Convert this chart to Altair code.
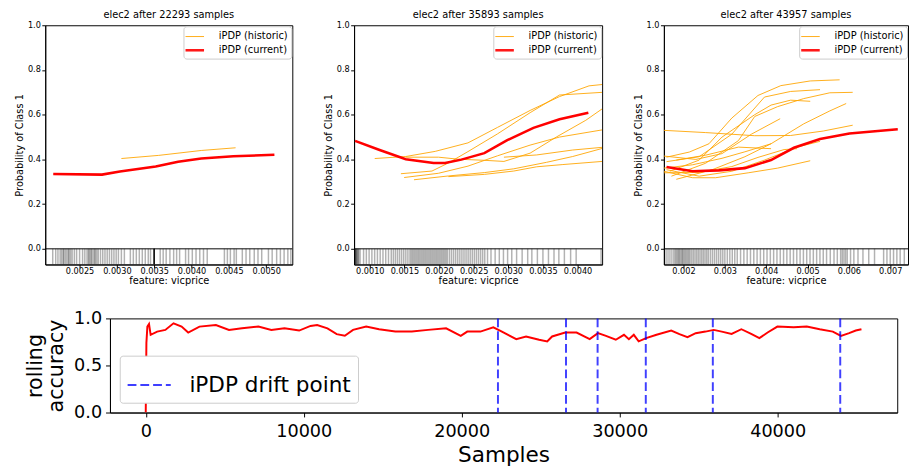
import altair as alt
import pandas as pd

FONT = "DejaVu Sans"
SERIES = ["iPDP (historic)", "iPDP (current)"]
SERIES_COLORS = ["#ffa500", "#ff0000"]
SERIES_WIDTHS = [1.0, 2.6]
Y_TICKS = [0.0, 0.2, 0.4, 0.6, 0.8, 1.0]

# ---------------- panel 1 ----------------
P1_TITLE = "elec2 after 22293 samples"
P1_XDOM = [0.00204, 0.00535]
P1_XTICKS = [0.0025, 0.0030, 0.0035, 0.0040, 0.0045, 0.0050]
P1_CUR_X = [0.002147, 0.00280, 0.00304, 0.00352, 0.00382, 0.00413, 0.00456, 0.00511]
P1_CUR_Y = [0.335, 0.332, 0.346, 0.368, 0.390, 0.404, 0.414, 0.421]
P1_HIST_X = [[0.00306, 0.00356, 0.00413, 0.00459]]
P1_HIST_Y = [[0.404, 0.418, 0.440, 0.452]]
P1_RUG = [0.00214, 0.00218, 0.00221, 0.00224, 0.00226, 0.00228, 0.00229, 0.00231,
          0.00233, 0.00235, 0.00236, 0.00238, 0.00240, 0.00243, 0.00246, 0.00250,
          0.00254, 0.00257, 0.00260, 0.00262, 0.00263, 0.00265, 0.00266, 0.00268,
          0.00270, 0.00271, 0.00273, 0.00275, 0.00278, 0.00281, 0.00284, 0.00287,
          0.00290, 0.00293, 0.00296, 0.00299, 0.00302, 0.00306, 0.00310, 0.00318,
          0.00322, 0.00326, 0.00330, 0.00334, 0.00338, 0.00342, 0.00345,
          0.00350, 0.00350, 0.00350, 0.00350, 0.00350, 0.00350, 0.00350,
          0.00358, 0.00362, 0.00366, 0.00371, 0.00376, 0.00380, 0.00384, 0.00392,
          0.00396, 0.00401, 0.00406, 0.00411, 0.00416, 0.00421, 0.00444, 0.00448,
          0.00452, 0.00457, 0.00460, 0.00468, 0.00473, 0.00478, 0.00484, 0.00489,
          0.00494, 0.00503, 0.00508, 0.00514, 0.00519, 0.00524, 0.00529, 0.00533]

# ---------------- panel 2 ----------------
P2_TITLE = "elec2 after 35893 samples"
P2_XDOM = [0.000773, 0.004355]
P2_XTICKS = [0.0010, 0.0015, 0.0020, 0.0025, 0.0030, 0.0035, 0.0040]
P2_CUR_X = [0.000787, 0.001142, 0.00152, 0.001921, 0.002087, 0.002323, 0.002654,
            0.002985, 0.003363, 0.00374, 0.004156]
P2_CUR_Y = [0.483, 0.442, 0.401, 0.384, 0.384, 0.399, 0.428, 0.486, 0.541, 0.580, 0.609]
P2_HIST_X = [
    [0.001071, 0.00152, 0.001945, 0.002418, 0.002843, 0.003315, 0.00374, 0.004166, 0.004355],
    [0.001449, 0.001898, 0.002134, 0.002418, 0.002843, 0.003315, 0.00374, 0.004355],
    [0.00152, 0.001992, 0.002276, 0.002654, 0.002937, 0.003315, 0.003693, 0.004119, 0.004355],
    [0.001496, 0.001992, 0.002418, 0.002843, 0.003315, 0.00374, 0.004355],
    [0.001638, 0.002134, 0.002654, 0.003079, 0.003552, 0.00393, 0.004355],
    [0.002134, 0.002654, 0.003079, 0.00341, 0.003788, 0.004355],
    [0.002937, 0.00341, 0.00393, 0.004355],
]
P2_HIST_Y = [
    [0.404, 0.413, 0.436, 0.474, 0.543, 0.619, 0.681, 0.729, 0.735],
    [0.336, 0.348, 0.384, 0.435, 0.514, 0.609, 0.688, 0.700],
    [0.410, 0.410, 0.401, 0.396, 0.391, 0.428, 0.500, 0.575, 0.626],
    [0.319, 0.338, 0.370, 0.416, 0.464, 0.500, 0.532],
    [0.309, 0.326, 0.341, 0.358, 0.387, 0.413, 0.449],
    [0.323, 0.333, 0.348, 0.367, 0.377, 0.391],
    [0.410, 0.420, 0.442, 0.454],
]
P2_RUG = [0.00079, 0.00079, 0.00080, 0.00080, 0.00081, 0.00082, 0.00083, 0.00084,
          0.00086, 0.00091, 0.00095, 0.00099, 0.00103, 0.00107, 0.00111, 0.00115,
          0.00119, 0.00123, 0.00127, 0.00131, 0.00134, 0.00137, 0.00140, 0.00143,
          0.00146, 0.00149, 0.00152, 0.00155, 0.00158, 0.00160, 0.00162, 0.00164,
          0.00166, 0.00168, 0.00170, 0.00172, 0.00174, 0.00176, 0.00178, 0.00180,
          0.00182, 0.00184, 0.00186, 0.00188, 0.00190, 0.00192, 0.00194, 0.00196,
          0.00198, 0.00200, 0.00202, 0.00204, 0.00206, 0.00208, 0.00210, 0.00212,
          0.00215, 0.00218, 0.00221, 0.00224, 0.00227, 0.00230, 0.00233, 0.00236,
          0.00239, 0.00242, 0.00245, 0.00248, 0.00251, 0.00254, 0.00257, 0.00260,
          0.00263, 0.00266, 0.00270, 0.00275, 0.00281, 0.00287, 0.00293, 0.00299,
          0.00305, 0.00312, 0.00320, 0.00328, 0.00334, 0.00342, 0.00350, 0.00358,
          0.00366, 0.00373, 0.00381, 0.00390, 0.00398, 0.00434]

# ---------------- panel 3 ----------------
P3_TITLE = "elec2 after 43957 samples"
P3_XDOM = [0.001526, 0.00743]
P3_XTICKS = [0.002, 0.003, 0.004, 0.005, 0.006, 0.007]
P3_CUR_X = [0.001589, 0.002221, 0.002853, 0.003485, 0.004117, 0.00467, 0.005302,
            0.006013, 0.007182]
P3_CUR_Y = [0.366, 0.347, 0.351, 0.361, 0.397, 0.452, 0.491, 0.516, 0.535]
P3_HIST_X = [
    [0.001526, 0.002537, 0.003722, 0.004591, 0.005381, 0.006092],
    [0.001589, 0.002142, 0.002616, 0.003169, 0.003801, 0.004354, 0.005065, 0.005776],
    [0.001589, 0.002379, 0.003169, 0.003959, 0.004591, 0.005302],
    [0.001668, 0.002379, 0.002932, 0.003722, 0.004117, 0.004591, 0.005065],
    [0.001708, 0.002537, 0.003327, 0.003722, 0.004275, 0.004907, 0.005539, 0.006092],
    [0.001826, 0.002695, 0.003485, 0.004117, 0.004907, 0.005539, 0.005934],
    [0.001526, 0.0023, 0.002932, 0.003643, 0.004338],
    [0.001526, 0.002221, 0.002932, 0.003485, 0.004117],
    [0.001589, 0.002379, 0.003169, 0.003959, 0.004749, 0.005302],
    [0.001526, 0.002221, 0.002774, 0.003564, 0.004275, 0.005065],
    [0.001526, 0.002379, 0.003169, 0.003801, 0.004433, 0.004749],
    [0.001826, 0.002537, 0.003327, 0.004117],
]
P3_HIST_Y = [
    [0.530, 0.520, 0.506, 0.507, 0.527, 0.553],
    [0.410, 0.433, 0.470, 0.585, 0.686, 0.730, 0.751, 0.756],
    [0.390, 0.412, 0.513, 0.679, 0.704, 0.712],
    [0.347, 0.397, 0.500, 0.600, 0.643, 0.665, 0.660],
    [0.325, 0.383, 0.484, 0.592, 0.636, 0.672, 0.698, 0.700],
    [0.311, 0.354, 0.412, 0.470, 0.559, 0.617, 0.650],
    [0.415, 0.400, 0.426, 0.513, 0.582],
    [0.361, 0.376, 0.405, 0.434, 0.470],
    [0.354, 0.325, 0.347, 0.397, 0.455, 0.481],
    [0.347, 0.318, 0.318, 0.340, 0.361, 0.394],
    [0.340, 0.342, 0.368, 0.409, 0.444, 0.448],
    [0.397, 0.419, 0.455, 0.448],
]
P3_RUG = [0.00155, 0.00160, 0.00165, 0.00170, 0.00175, 0.00179, 0.00182, 0.00185,
          0.00188, 0.00190, 0.00193, 0.00196, 0.00198, 0.00201, 0.00204, 0.00207,
          0.00210, 0.00213, 0.00216, 0.00220, 0.00224, 0.00228, 0.00232, 0.00236,
          0.00240, 0.00244, 0.00248, 0.00252, 0.00256, 0.00260, 0.00265, 0.00270,
          0.00275, 0.00280, 0.00285, 0.00290, 0.00295, 0.00300, 0.00306, 0.00312,
          0.00318, 0.00324, 0.00330, 0.00338, 0.00346, 0.00354, 0.00362, 0.00370,
          0.00378, 0.00386, 0.00394, 0.00402, 0.00410, 0.00418, 0.00426, 0.00434,
          0.00442, 0.00450, 0.00458, 0.00466, 0.00474, 0.00482, 0.00490, 0.00498,
          0.00506, 0.00514, 0.00522, 0.00530, 0.00538, 0.00546, 0.00555, 0.00564,
          0.00572, 0.00580, 0.00584, 0.00588, 0.00592, 0.00596, 0.00604, 0.00612,
          0.00622, 0.00634, 0.00648, 0.00662, 0.00684, 0.00692, 0.00700, 0.00708,
          0.00716, 0.00724, 0.00734]

# ---------------- bottom: rolling accuracy ----------------
ACC_X = [0, 41, 103, 207, 310, 723, 1240, 1757, 2270, 2687, 3400, 4440, 5270, 6090,
         7130, 7950, 8780, 9710, 10430, 10850, 11500, 12086, 12600, 13120, 13950,
         14770, 15800, 16840, 17870, 19010, 19940, 20350, 21180, 22000, 22420, 23450,
         24070, 24900, 25410, 25720, 26550, 27270, 28100, 28620, 29130, 29750, 30270,
         30580, 30890, 31200, 31670, 32330, 33260, 33780, 34290, 34810, 35430, 35950,
         36460, 37080, 37700, 38320, 38840, 39360, 39980, 41010, 41840, 42660, 43490,
         44000, 44520, 44940, 45300]
ACC_Y = [0.0, 0.74, 0.913, 0.94, 0.826, 0.86, 0.878, 0.948, 0.913, 0.85, 0.913, 0.93,
         0.878, 0.895, 0.913, 0.878, 0.895, 0.871, 0.92, 0.93, 0.895, 0.833, 0.815,
         0.878, 0.913, 0.885, 0.86, 0.86, 0.878, 0.895, 0.815, 0.86, 0.86, 0.906,
         0.871, 0.78, 0.808, 0.773, 0.756, 0.808, 0.85, 0.85, 0.78, 0.843, 0.815,
         0.773, 0.826, 0.78, 0.826, 0.756, 0.79, 0.826, 0.871, 0.833, 0.80, 0.843,
         0.86, 0.878, 0.86, 0.836, 0.885, 0.836, 0.79, 0.85, 0.913, 0.906, 0.913,
         0.885, 0.86, 0.815, 0.843, 0.871, 0.885]
DRIFT_POINTS = [22293, 26600, 28600, 31650, 35893, 43957]
DRIFT_LABEL = "iPDP drift point"
BOTTOM_XDOM = [-2265, 47565]
BOTTOM_XTICKS = [0, 10000, 20000, 30000, 40000]

TOP_AXIS = dict(labelFontSize=8.3, titleFontSize=10, tickSize=3.5,
                labelFlush=False, labelOverlap=False, grid=False,
                titleFontWeight="normal", domainColor="black", tickColor="black",
                labelColor="black", titleColor="black", labelFont=FONT, titleFont=FONT)


def top_panel(title, xdom, xticks, xfmt, cur_x, cur_y, hist_x, hist_y, rug, width):
    rows = []
    for i, (xs, ys) in enumerate(zip(hist_x, hist_y)):
        for x, y in zip(xs, ys):
            rows.append({"x": x, "y": y, "line": i, "series": SERIES[0]})
    hist_df = pd.DataFrame(rows)
    cur_df = pd.DataFrame({"x": cur_x, "y": cur_y, "series": SERIES[1]})
    rug_df = pd.DataFrame({"x": rug, "y": 0.0, "y2": -0.07})
    zero_df = pd.DataFrame({"y": [0.0]})

    xsc = alt.Scale(domain=xdom, nice=False, zero=False)
    ysc = alt.Scale(domain=[-0.07, 1.0], nice=False, zero=False)
    X = alt.X("x:Q", scale=xsc,
              axis=alt.Axis(values=xticks, format=xfmt, title="feature: vicprice",
                            labelPadding=-1, titlePadding=1, **TOP_AXIS))
    Y = alt.Y("y:Q", scale=ysc,
              axis=alt.Axis(values=Y_TICKS, format=".1f", title="Probability of Class 1",
                            labelPadding=1.5, titlePadding=3, **TOP_AXIS))
    leg = alt.Legend(title=None, orient="top-right", offset=1, padding=3, rowPadding=0,
                     labelFontSize=10, labelFont=FONT, labelColor="black",
                     symbolType="M-1.35,0L1.35,0", symbolSize=196, labelOffset=16,
                     strokeColor="#cccccc", fillColor="white", cornerRadius=3)
    color = alt.Color("series:N", scale=alt.Scale(domain=SERIES, range=SERIES_COLORS), legend=leg)
    sw = alt.StrokeWidth("series:N", scale=alt.Scale(domain=SERIES, range=SERIES_WIDTHS), legend=leg)

    rug_layer = alt.Chart(rug_df).mark_rule(color="black", opacity=0.3, strokeWidth=1.5, clip=True).encode(
        x=X, y=Y, y2="y2:Q")
    zero_layer = alt.Chart(zero_df).mark_rule(color="black", strokeWidth=1).encode(y=Y)
    hist_layer = alt.Chart(hist_df).mark_line(clip=True, opacity=0.9).encode(
        x=X, y=Y, color=color, strokeWidth=sw, detail="line:N")
    cur_layer = alt.Chart(cur_df).mark_line(clip=True).encode(
        x=X, y=Y, color=color, strokeWidth=sw)
    return alt.layer(rug_layer, zero_layer, hist_layer, cur_layer).properties(
        width=width, height=244,
        title=alt.TitleParams(title, fontSize=10, fontWeight="normal", font=FONT,
                              color="black", offset=0, frame="group"))


def spacer(w):
    return alt.Chart(pd.DataFrame({"a": [0]})).mark_point(opacity=0).encode(
        x=alt.value(0), y=alt.value(0)).properties(
        width=w, height=1, view=alt.ViewBackground(stroke=None))


p1 = top_panel(P1_TITLE, P1_XDOM, P1_XTICKS, ".4f", P1_CUR_X, P1_CUR_Y, P1_HIST_X, P1_HIST_Y, P1_RUG, 252)
p2 = top_panel(P2_TITLE, P2_XDOM, P2_XTICKS, ".4f", P2_CUR_X, P2_CUR_Y, P2_HIST_X, P2_HIST_Y, P2_RUG, 253)
p3 = top_panel(P3_TITLE, P3_XDOM, P3_XTICKS, ".3f", P3_CUR_X, P3_CUR_Y, P3_HIST_X, P3_HIST_Y, P3_RUG, 249)

top_inner = alt.hconcat(p1, p2, p3, spacing=30).resolve_scale(
    x="independent", y="independent", color="independent", strokeWidth="independent"
).resolve_legend(color="independent", strokeWidth="independent")
top_row = alt.hconcat(spacer(1), top_inner, spacing=0).resolve_scale(
    color="independent", strokeWidth="independent"
).resolve_legend(color="independent", strokeWidth="independent")

# bottom chart
acc_df = pd.DataFrame({"s": ACC_X, "acc": ACC_Y})
drift_df = pd.DataFrame({"s": DRIFT_POINTS, "label": DRIFT_LABEL})
BX = alt.X("s:Q", scale=alt.Scale(domain=BOTTOM_XDOM, nice=False, zero=False),
           axis=alt.Axis(values=BOTTOM_XTICKS, format="d", title="Samples",
                         labelFontSize=18, titleFontSize=22, tickSize=4.5, labelPadding=6,
                         titlePadding=4, labelFlush=False, grid=False, titleFontWeight="normal",
                         domainColor="black", tickColor="black", labelColor="black",
                         titleColor="black", labelFont=FONT, titleFont=FONT))
BY = alt.Y("acc:Q", scale=alt.Scale(domain=[0, 1], nice=False, zero=False),
           axis=alt.Axis(values=[0.0, 0.5, 1.0], format=".1f", title=["rolling", "accuracy"],
                         labelFontSize=18, titleFontSize=21, titleLineHeight=22, tickSize=4.5,
                         labelPadding=4, titlePadding=7, labelFlush=False, grid=False,
                         titleFontWeight="normal", domainColor="black", tickColor="black",
                         labelColor="black", titleColor="black", labelFont=FONT, titleFont=FONT))
acc_layer = alt.Chart(acc_df).mark_line(color="#ff0000", strokeWidth=2, clip=True).encode(x=BX, y=BY)
drift_layer = alt.Chart(drift_df).mark_rule(strokeDash=[9, 4], strokeWidth=2, opacity=0.75).encode(
    x=BX,
    color=alt.Color("label:N", scale=alt.Scale(domain=[DRIFT_LABEL], range=["#0000ff"]),
                    legend=alt.Legend(title=None, orient="bottom-left", offset=10, padding=7,
                                      labelFontSize=22, labelFont=FONT, labelColor="black",
                                      labelLimit=400,
                                      symbolType="stroke", symbolDash=[9, 4], symbolStrokeWidth=2,
                                      symbolSize=1936, symbolOpacity=0.75, labelOffset=18,
                                      strokeColor="#cccccc", fillColor="white", cornerRadius=3)))
bottom = alt.layer(acc_layer, drift_layer).properties(width=803, height=96)
bottom_row = alt.hconcat(spacer(13), bottom, spacing=0).resolve_scale(
    color="independent"
).resolve_legend(color="independent")

chart = alt.vconcat(top_row, bottom_row, spacing=22).resolve_scale(
    color="independent", strokeWidth="independent"
).resolve_legend(color="independent", strokeWidth="independent").properties(
    padding={"left": 0, "top": -3, "right": 0, "bottom": 0}
).configure(font=FONT).configure_view(stroke="black", strokeWidth=1)

chart.save("out.html", embed_options={"renderer": "svg", "actions": False})
